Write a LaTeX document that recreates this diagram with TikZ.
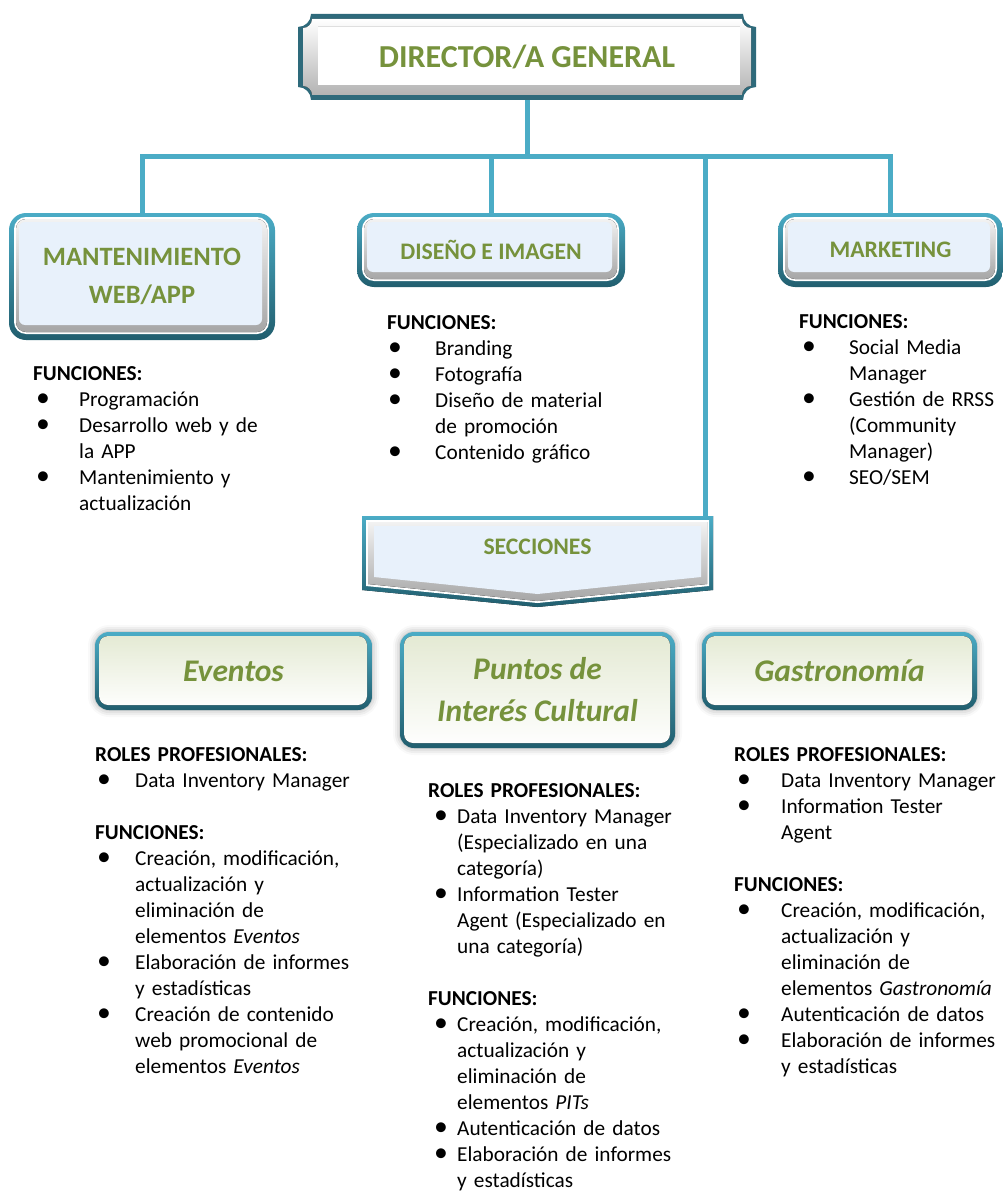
\documentclass[tikz,border=0pt]{standalone}
\usepackage{fontspec}
\setmainfont{Carlito}
\usepackage{graphicx}
\usepackage{tikz}
\usetikzlibrary{positioning}
\usetikzlibrary{shadows.blur}
\definecolor{busline}{HTML}{4BACC6}
\definecolor{dirrim}{HTML}{2E6A7B}
\definecolor{boxtop}{HTML}{4BACC6}
\definecolor{boxbot}{HTML}{215E6E}
\definecolor{bluface}{HTML}{E8F1FB}
\definecolor{greenface}{HTML}{F4F9E6}
\definecolor{greentop}{HTML}{E3E9D2}
\definecolor{titlegreen}{HTML}{76923C}
\newlength{\bulsk}
\newlength{\bulin}
% one bullet line of a list, hanging indent for the rest
\newcommand{\bul}[1]{\par\hangindent=\bulin\hangafter=1\noindent\makebox[\bulin][l]{\hspace{\bulsk}\scalebox{1.3}{\textbullet}}#1}
\newcommand{\hd}[1]{\par\vspace{\baselineskip}\noindent\textbf{#1}}
% plaque with hollow corners: inset, radius, fill
\newcommand{\plaque}[3]{%
\fill[#3] ([shift={(#2+#1,-#1)}]path picture bounding box.north west) -- ([shift={(-#2-#1,-#1)}]path picture bounding box.north east)
  arc[start angle=180, end angle=270, radius=#2] -- ([shift={(-#1,#2+#1)}]path picture bounding box.south east)
  arc[start angle=90, end angle=180, radius=#2] -- ([shift={(#2+#1,#1)}]path picture bounding box.south west)
  arc[start angle=0, end angle=90, radius=#2] -- ([shift={(#1,-#2-#1)}]path picture bounding box.north west)
  arc[start angle=270, end angle=360, radius=#2] -- cycle;}
% banner pointing down: side inset, top inset, bottom inset, fill
\newcommand{\banner}[4]{%
\fill[#4] ([shift={(#1,-#2)}]path picture bounding box.north west) -- ([shift={(-#1,-#2)}]path picture bounding box.north east)
  -- ([shift={(-#1,17pt+#3)}]path picture bounding box.south east) -- ([yshift=#3]path picture bounding box.south)
  -- ([shift={(#1,17pt+#3)}]path picture bounding box.south west) -- cycle;}
\tikzset{
bus/.style={draw=busline, line width=5pt},
dirbox/.style={ % head plaque
  rectangle, minimum width=458pt, minimum height=86pt, inner sep=0pt,
  text=titlegreen, font=\bfseries\fontsize{32}{38}\selectfont,
  path picture={
    \plaque{0pt}{13pt}{dirrim}
    \plaque{5pt}{9pt}{top color=white, bottom color=gray!60}
    \fill[white] ([shift={(20pt,-13pt)}]path picture bounding box.north west) rectangle ([shift={(-16pt,15pt)}]path picture bounding box.south east);
    \draw[gray!25, line width=1pt] ([shift={(20pt,-13pt)}]path picture bounding box.north west) -- ([shift={(-16pt,-13pt)}]path picture bounding box.north east);
  }},
deptbox/.style={ % blue buttons of the departments
  rectangle, rounded corners=17pt, top color=boxtop, bottom color=boxbot,
  inner sep=0pt, align=center, text=titlegreen,
  font=\bfseries\fontsize{23.7}{38}\selectfont,
  path picture={
    \fill[white, rounded corners=12pt] ([shift={(5pt,-4pt)}]path picture bounding box.north west) rectangle ([shift={(-6pt,6pt)}]path picture bounding box.south east);
    \fill[top color=gray!10, bottom color=gray!70, rounded corners=10pt] ([shift={(7pt,-6pt)}]path picture bounding box.north west) rectangle ([shift={(-8pt,8pt)}]path picture bounding box.south east);
    \fill[bluface, rounded corners=6pt] ([shift={(10pt,-9pt)}]path picture bounding box.north west) rectangle ([shift={(-13pt,15pt)}]path picture bounding box.south east);
  }},
seccbox/.style={ % the banner over the sections
  rectangle, minimum width=351pt, minimum height=91pt, inner sep=0pt,
  text height=16pt, text depth=30pt, text=titlegreen,
  font=\bfseries\fontsize{23.7}{28}\selectfont,
  path picture={
    \banner{0pt}{0pt}{0pt}{top color=boxtop, bottom color=boxbot}
    \banner{4pt}{4pt}{4pt}{white}
    \banner{6pt}{6pt}{6pt}{top color=gray!10, bottom color=gray!70}
    \banner{12pt}{10pt}{13pt}{bluface}
  }},
secbox/.style={ % green buttons of the sections
  rectangle, rounded corners=14pt, top color=boxtop, bottom color=boxbot,
  inner sep=0pt, align=center, text=titlegreen,
  font=\bfseries\itshape\fontsize{31.5}{42}\selectfont,
  blur shadow={shadow xshift=0pt, shadow yshift=0pt, shadow blur radius=7pt, shadow opacity=35},
  path picture={
    \fill[top color=greentop, middle color=greenface, bottom color=white, rounded corners=9pt] ([shift={(4pt,-4pt)}]path picture bounding box.north west) rectangle ([shift={(-5pt,5pt)}]path picture bounding box.south east);
  }},
textblock/.style 2 args={anchor=base west, inner sep=0pt, text width=300pt,
  font=\fontsize{21.3}{26}\selectfont,
  execute at begin node={\setlength{\bulsk}{#1}\setlength{\bulin}{#2}}}
}
\begin{document}
\begin{tikzpicture}[x=1pt, y=1pt]
\useasboundingbox (0,0) rectangle (1003,-1193);
% head
\node[dirbox] (dir) at (527,-57) {DIRECTOR/A GENERAL};
% departments
\node[deptbox, minimum width=266pt, minimum height=127pt, font=\bfseries\fontsize{26.5}{38}\selectfont] (mant) at (142,-276.5) {MANTENIMIENTO\\WEB/APP};
\node[deptbox, minimum width=268pt, minimum height=74pt] (dis) at (491,-250) {DISEÑO E IMAGEN};
\node[deptbox, minimum width=225pt, minimum height=74pt] (mkt) at (890.5,-250) {MARKETING};
% secciones banner
\node[seccbox] (secc) at (537.5,-561.5) {SECCIONES};
% connectors
\coordinate (bus) at (527,-157);
\coordinate (sectop) at ([xshift=-8pt]secc.north east);
\draw[bus] (dir.south) -- (dir.south |- bus);
\draw[bus] (mant.north) -- (mant.north |- bus) -- (mkt.north |- bus) -- (mkt.north);
\draw[bus] (dis.north |- bus) -- (dis.north);
\draw[bus] (sectop |- bus) -- (sectop);
% sections
\node[secbox, minimum width=277pt, minimum height=78pt] (ev) at (233.5,-671) {Eventos};
\node[secbox, minimum width=275pt, minimum height=116pt] (pit) at (537.5,-690) {Puntos de\\Interés Cultural};
\node[secbox, minimum width=275pt, minimum height=78pt] (gas) at (839.5,-671) {Gastronomía};
% lists
\node[textblock={3pt}{46pt}] (mantfun) at (33,-380) {\textbf{FUNCIONES:}
  \bul{Programación}
  \bul{Desarrollo web y de\newline la APP}
  \bul{Mantenimiento y\newline actualización}\par};
\node[textblock={1pt}{48pt}] (disfun) at (387,-329) {\textbf{FUNCIONES:}
  \bul{Branding}
  \bul{Fotografía}
  \bul{Diseño de material\newline de promoción}
  \bul{Contenido gráfico}\par};
\node[textblock={3pt}{50pt}] (mktfun) at (799,-328) {\textbf{FUNCIONES:}
  \bul{Social Media\newline Manager}
  \bul{Gestión de RRSS\newline (Community\newline Manager)}
  \bul{SEO/SEM}\par};
\node[textblock={2pt}{40pt}] (evroles) at (95,-761) {\textbf{ROLES PROFESIONALES:}
  \bul{Data Inventory Manager}
  \hd{FUNCIONES:}
  \bul{Creación, modificación,\newline actualización y\newline eliminación de\newline elementos \textit{Eventos}}
  \bul{Elaboración de informes\newline y estadísticas}
  \bul{Creación de contenido\newline web promocional de\newline elementos \textit{Eventos}}\par};
\node[textblock={6pt}{29pt}] (pitroles) at (428,-797) {\textbf{ROLES PROFESIONALES:}
  \bul{Data Inventory Manager\newline (Especializado en una\newline categoría)}
  \bul{Information Tester\newline Agent (Especializado en\newline una categoría)}
  \hd{FUNCIONES:}
  \bul{Creación, modificación,\newline actualización y\newline eliminación de\newline elementos \textit{PITs}}
  \bul{Autenticación de datos}
  \bul{Elaboración de informes\newline y estadísticas}\par};
\node[textblock={3pt}{47pt}] (gasroles) at (734,-761) {\textbf{ROLES PROFESIONALES:}
  \bul{Data Inventory Manager}
  \bul{Information Tester\newline Agent}
  \hd{FUNCIONES:}
  \bul{Creación, modificación,\newline actualización y\newline eliminación de\newline elementos \textit{Gastronomía}}
  \bul{Autenticación de datos}
  \bul{Elaboración de informes\newline y estadísticas}\par};
\end{tikzpicture}
\end{document}
